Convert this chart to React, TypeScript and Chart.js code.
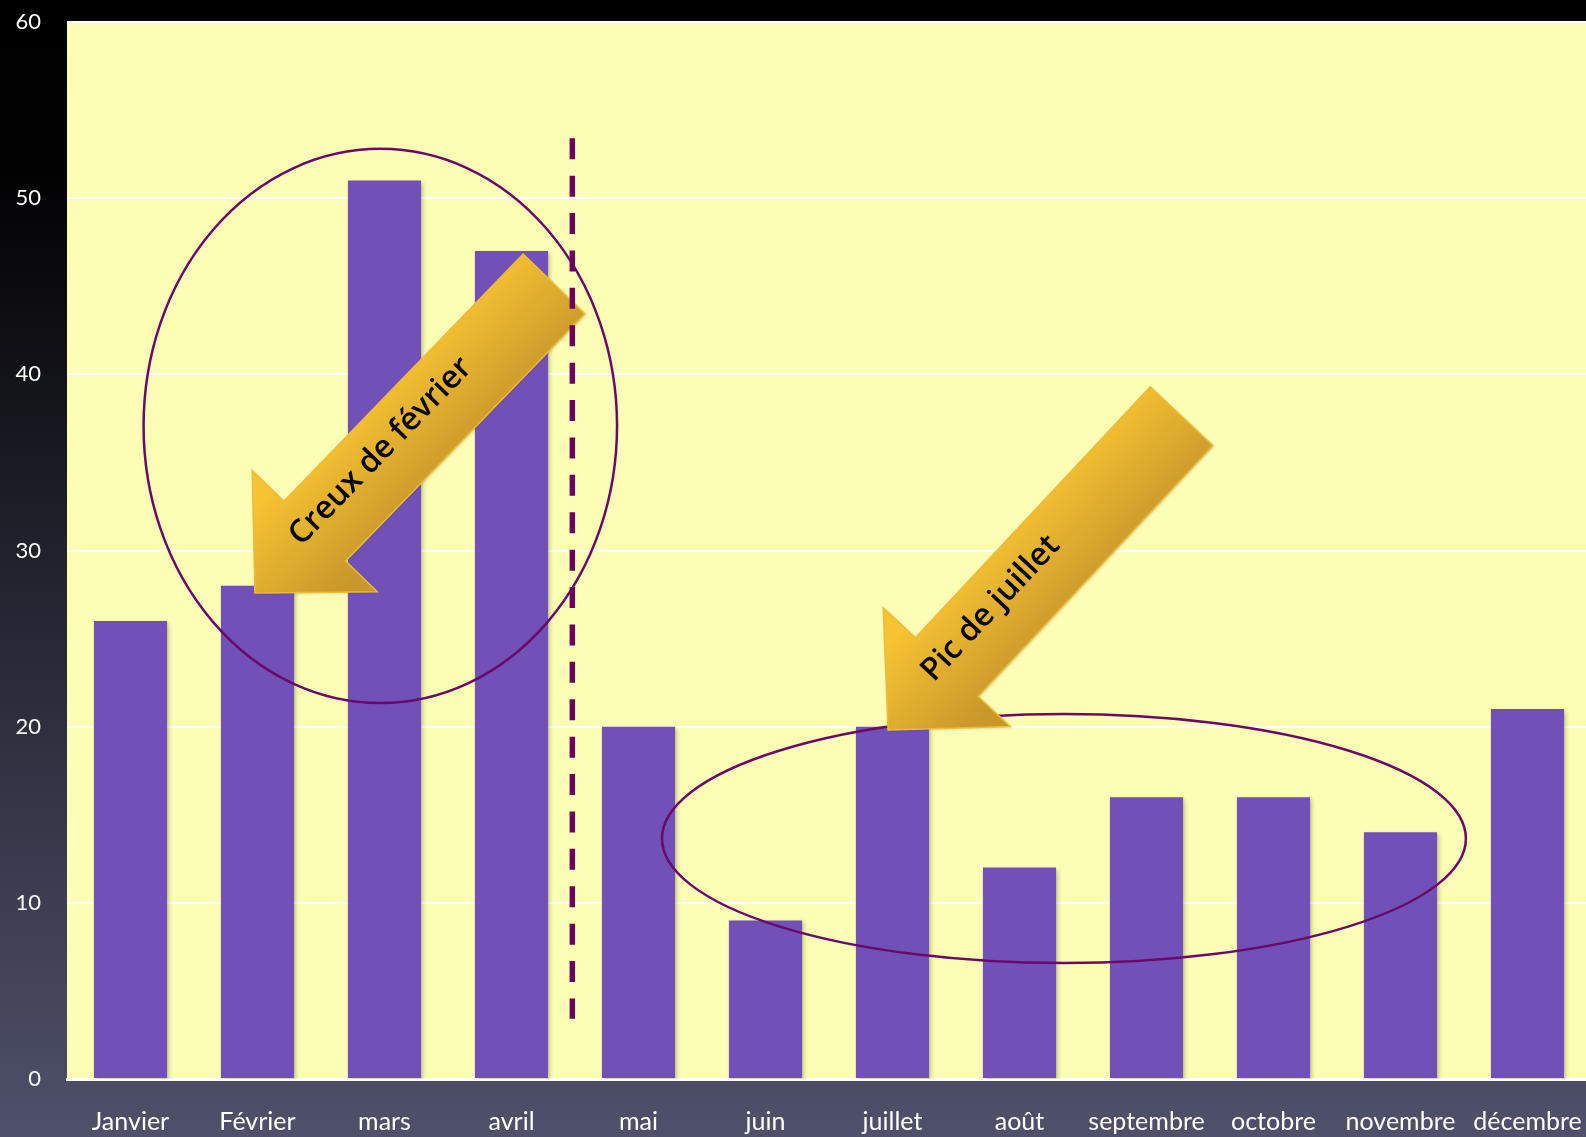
import React, { useEffect, useRef } from "react";
import { Chart, registerables } from "chart.js";

Chart.register(...registerables);

// ---- Data ----
const months = ["Janvier", "Février", "mars", "avril", "mai", "juin", "juillet", "août", "septembre", "octobre", "novembre", "décembre"];
const values = [26, 28, 51, 47, 20, 9, 20, 12, 16, 16, 14, 21];
const yMin = 0;
const yMax = 60;
const yStep = 10;

// ---- Annotations (data coordinates: category index, value) ----
const ellipseCenters = [
  [1.967, 37.07],
  [7.35, 13.65],
];
const ellipseRadii = [
  [1.864, 15.73],
  [3.165, 7.07],
];
const separatorLine = [3.479, 3.42, 53.4]; // x index, from value, to value
const arrowLabels = ["Creux de février", "Pic de juillet"];
const arrowTips = [
  [0.98, 27.59],
  [5.965, 19.81],
];
const arrowTails = [
  [3.335, 45.13],
  [8.276, 37.63],
];
const arrowTextPos = [0.44, 0.37]; // fraction of length from tip

const W = 1586;
const H = 1137;
const CANVAS_W = 1591; // plot area runs slightly past the right edge, as in the original

const bgPlugin = {
  id: "bgPlugin",
  beforeDraw(chart: any) {
    const { ctx, chartArea } = chart;
    ctx.save();
    const g = ctx.createLinearGradient(0, 0, 0, chart.height);
    g.addColorStop(0, "#000000");
    g.addColorStop(0.15, "#020203");
    g.addColorStop(1, "#4f516b");
    ctx.fillStyle = g;
    ctx.fillRect(0, 0, chart.width, chart.height);
    ctx.fillStyle = "#fcfeb6";
    ctx.fillRect(chartArea.left, chartArea.top, chartArea.right - chartArea.left, chartArea.bottom - chartArea.top);
    ctx.restore();
  },
  beforeDatasetsDraw(chart: any) {
    const ctx = chart.ctx;
    ctx.save();
    ctx.shadowColor = "rgba(60,50,0,0.28)";
    ctx.shadowBlur = 4;
    ctx.shadowOffsetX = 2;
    ctx.shadowOffsetY = 2;
  },
  afterDatasetsDraw(chart: any) {
    const ctx = chart.ctx;
    ctx.restore();
    const xs = chart.scales.x;
    const ys = chart.scales.y;
    const px = (i: number) => xs.getPixelForValue(i);
    const py = (v: number) => ys.getPixelForValue(v);
    const catW = px(1) - px(0);
    const unitH = py(0) - py(1);

    // ellipses
    ctx.save();
    ctx.strokeStyle = "#6a0a68";
    ctx.lineWidth = 2.5;
    ellipseCenters.forEach((c, k) => {
      ctx.beginPath();
      ctx.ellipse(px(c[0]), py(c[1]), ellipseRadii[k][0] * catW, ellipseRadii[k][1] * unitH, 0, 0, Math.PI * 2);
      ctx.stroke();
    });
    ctx.restore();

    // arrows
    arrowTips.forEach((tipD, k) => {
      const T = [px(tipD[0]), py(tipD[1])];
      const E = [px(arrowTails[k][0]), py(arrowTails[k][1])];
      const dx = E[0] - T[0];
      const dy = E[1] - T[1];
      const len = Math.hypot(dx, dy);
      const u = [dx / len, dy / len];
      const n = [-u[1], u[0]];
      const w = 43;
      const hw = 87;
      const hl = 86;
      const B = [T[0] + u[0] * hl, T[1] + u[1] * hl];
      const pts = [
        T,
        [B[0] + n[0] * hw, B[1] + n[1] * hw],
        [B[0] + n[0] * w, B[1] + n[1] * w],
        [E[0] + n[0] * w, E[1] + n[1] * w],
        [E[0] - n[0] * w, E[1] - n[1] * w],
        [B[0] - n[0] * w, B[1] - n[1] * w],
        [B[0] - n[0] * hw, B[1] - n[1] * hw],
      ];
      ctx.save();
      ctx.beginPath();
      pts.forEach((p, i) => (i === 0 ? ctx.moveTo(p[0], p[1]) : ctx.lineTo(p[0], p[1])));
      ctx.closePath();
      const M = [T[0] + u[0] * len * 0.5, T[1] + u[1] * len * 0.5];
      const g = ctx.createLinearGradient(M[0] - n[0] * 60, M[1] - n[1] * 60, M[0] + n[0] * 60, M[1] + n[1] * 60);
      g.addColorStop(0, "#f7c333");
      g.addColorStop(1, "#c8982a");
      ctx.fillStyle = g;
      ctx.shadowColor = "rgba(80,60,0,0.25)";
      ctx.shadowBlur = 3;
      ctx.shadowOffsetX = 1;
      ctx.shadowOffsetY = 1;
      ctx.fill();
      ctx.shadowColor = "transparent";
      ctx.strokeStyle = "#eebb3c";
      ctx.lineWidth = 1.5;
      ctx.stroke();
      // text
      const along = len * arrowTextPos[k];
      const cx = T[0] + u[0] * along - n[0] * 8;
      const cy = T[1] + u[1] * along - n[1] * 8;
      ctx.translate(cx, cy);
      ctx.rotate(Math.atan2(u[1], u[0]));
      ctx.fillStyle = "#000000";
      ctx.font = "600 32px 'Open Sans', sans-serif";
      ctx.textAlign = "center";
      ctx.textBaseline = "middle";
      ctx.fillText(arrowLabels[k], 0, 0);
      ctx.restore();
    });

    // dashed separator
    ctx.save();
    ctx.strokeStyle = "#6b0060";
    ctx.lineWidth = 5.5;
    ctx.setLineDash([21, 16.4]);
    ctx.beginPath();
    ctx.moveTo(px(separatorLine[0]), py(separatorLine[2]));
    ctx.lineTo(px(separatorLine[0]), py(separatorLine[1]));
    ctx.stroke();
    ctx.restore();
  },
};

export default function App() {
  const ref = useRef<HTMLCanvasElement | null>(null);

  useEffect(() => {
    document.body.style.margin = "0";
    document.body.style.overflow = "hidden";
    const canvas = ref.current;
    if (!canvas) return;
    const chart = new Chart(canvas, {
      type: "bar",
      data: {
        labels: months,
        datasets: [
          {
            data: values,
            backgroundColor: "#7151b7",
            borderWidth: 0,
            categoryPercentage: 1,
            barPercentage: 0.576,
          },
        ],
      },
      options: {
        responsive: false,
        animation: false,
        layout: { padding: { top: 22, right: 0, left: 0, bottom: 0 } },
        plugins: {
          legend: { display: false },
          tooltip: { enabled: false },
        },
        scales: {
          x: {
            grid: { display: false, drawTicks: false },
            border: { display: true, color: "#ffffff", width: 3 },
            ticks: {
              color: "#ffffff",
              font: { family: "Lato, 'Open Sans', sans-serif", size: 25 },
              padding: 28,
              maxRotation: 0,
              autoSkip: false,
            },
            afterFit: (s: any) => {
              s.height = 58;
              s.paddingLeft = 0;
              s.paddingRight = 0;
            },
          },
          y: {
            min: yMin,
            max: yMax,
            grid: { color: "#ffffff", lineWidth: 2, drawTicks: false },
            border: { display: false },
            ticks: {
              stepSize: yStep,
              color: "#ffffff",
              font: { family: "Lato, 'Open Sans', sans-serif", size: 22 },
              padding: 26,
            },
            afterFit: (s: any) => {
              s.width = 67;
              s.paddingTop = 0;
              s.paddingBottom = 0;
            },
          },
        },
      },
      plugins: [bgPlugin],
    });
    return () => chart.destroy();
  }, []);

  return (
    <div style={{ width: W, height: H, overflow: "hidden" }}>
      <canvas ref={ref} width={CANVAS_W} height={H} style={{ display: "block" }} />
    </div>
  );
}
